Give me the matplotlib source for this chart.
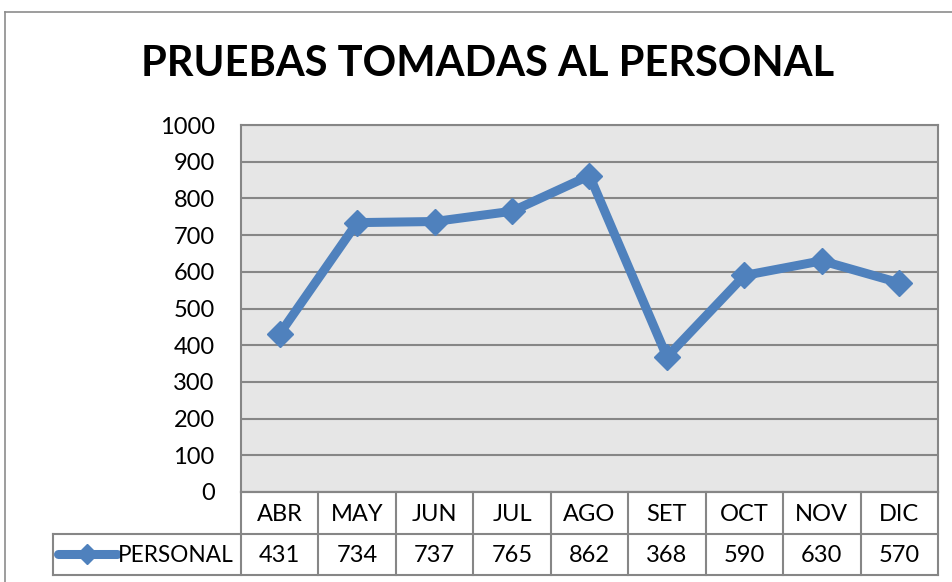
import matplotlib
matplotlib.use("Agg")
import matplotlib.pyplot as plt

months = ['ABR', 'MAY', 'JUN', 'JUL', 'AGO', 'SET', 'OCT', 'NOV', 'DIC']
personal = [431, 734, 737, 765, 862, 368, 590, 630, 570]
series_name = 'PERSONAL'
title = 'PRUEBAS TOMADAS AL PERSONAL'

plt.rcParams['font.family'] = ['Lato', 'DejaVu Sans']

blue = '#4F81BD'
grid_c = '#868686'
W, H = 953, 582

fig = plt.figure(figsize=(W / 100, H / 100), dpi=100)

# outer chart frame
fig.add_artist(plt.Line2D([5 / W, 5 / W], [0, 1 - 12 / H], color='#8c8c8c', lw=1.2))
fig.add_artist(plt.Line2D([5 / W, 1], [1 - 12 / H, 1 - 12 / H], color='#8c8c8c', lw=1.2))

fig.text(488 / W, 1 - 64 / H, title, ha='center', va='center',
         fontsize=30, fontweight='bold')

x = list(range(len(months)))
left, right = 241 / W, 938 / W
ax = fig.add_axes([left, 1 - 492 / H, right - left, (492 - 125) / H])
ax.set_facecolor('#E6E6E6')
ax.set_xlim(-0.5, len(months) - 0.5)
ax.set_ylim(0, 1000)
ax.set_yticks(range(0, 1001, 100))
ax.yaxis.grid(True, color=grid_c, lw=1.5)
ax.set_axisbelow(True)
ax.set_xticks([])
ax.tick_params(axis='y', length=0, labelsize=17, pad=19)
for s in ax.spines.values():
    s.set_color(grid_c)
    s.set_linewidth(1.5)
ax.plot(x, personal, color=blue, lw=6.5, marker='D', ms=13, solid_joinstyle='miter')

# data table under the plot
tb = fig.add_axes([left, 1 - 575 / H, right - left, (575 - 492) / H])
tb.set_xlim(-0.5, len(months) - 0.5)
tb.set_ylim(0, 2)
tb.axis('off')
key_left = -0.5 - (241 - 53) / (938 - 241) * len(months)
for yy in [0, 1]:
    tb.plot([key_left, len(months) - 0.5], [yy, yy], color=grid_c, lw=1.5, clip_on=False)
tb.plot([-0.5, len(months) - 0.5], [2, 2], color=grid_c, lw=1.5, clip_on=False)
tb.plot([key_left, key_left], [0, 1], color=grid_c, lw=1.5, clip_on=False)
for i in range(len(months) + 1):
    tb.plot([i - 0.5, i - 0.5], [0, 2], color=grid_c, lw=1.5, clip_on=False)
for i, (m, v) in enumerate(zip(months, personal)):
    tb.text(i, 1.45, m, ha='center', va='center', fontsize=17)
    tb.text(i, 0.47, str(v), ha='center', va='center', fontsize=17)
kx0 = key_left + 0.07
kx1 = key_left + 0.82
tb.plot([kx0, kx1], [0.5, 0.5], color=blue, lw=6.5, solid_capstyle='round', clip_on=False)
tb.plot([(kx0 + kx1) / 2], [0.5], color=blue, marker='D', ms=10, clip_on=False)
tb.text(kx1 + 0.02, 0.47, series_name, ha='left', va='center', fontsize=16.3)

fig.savefig('out.png', dpi=100)
